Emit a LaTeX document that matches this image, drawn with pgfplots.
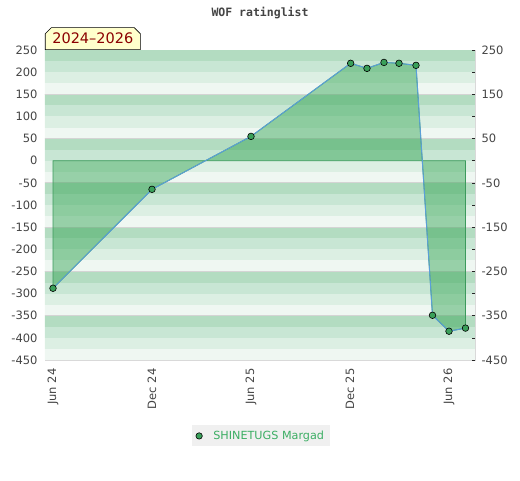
\documentclass[border=0pt]{standalone}
\usepackage{fontspec}
\setmainfont{DejaVu Sans}
\newfontfamily\monofont{DejaVu Sans Mono}
\usepackage{pgfplots}
\pgfplotsset{compat=1.18}
\usetikzlibrary{shapes.misc}
\definecolor{sA}{HTML}{B3DCC1}
\definecolor{sB}{HTML}{C8E6D4}
\definecolor{sC}{HTML}{DCEFE3}
\definecolor{sD}{HTML}{EFF7F2}
\definecolor{gridgray}{HTML}{D4D4D4}
\definecolor{framegray}{HTML}{D9D9D9}
\definecolor{areafill}{HTML}{2EA24E}
\definecolor{areaedge}{HTML}{3C9A5C}
\definecolor{lineblue}{HTML}{5A9FD8}
\definecolor{markgreen}{HTML}{3AA05A}
\definecolor{tickgray}{HTML}{444444}
\definecolor{legendgreen}{HTML}{3CAE64}
\definecolor{legendbg}{HTML}{F0F0F0}
\definecolor{yearred}{HTML}{8B0000}
\definecolor{yearbg}{HTML}{FFFFCC}
\begin{document}
\begin{tikzpicture}
\useasboundingbox (-45pt,-120pt) rectangle (475pt,360pt);
\begin{axis}[
  at={(0pt,0pt)}, anchor=south west,
  scale only axis, width=430pt, height=310pt,
  xmin=-0.485, xmax=25.576, ymin=-450, ymax=250,
  xtick={0,6,12,18,24},
  xticklabels={Jun 24,Dec 24,Jun 25,Dec 25,Jun 26},
  ytick={-450,-400,...,250},
  major tick length=0pt,
  axis line style={framegray},
  /pgf/number format/assume math mode=true,
  ticklabel style={font=\fontsize{11.5}{13}\selectfont, text=tickgray},
  x tick label style={rotate=90, anchor=east, xshift=-5pt},
  y tick label style={xshift=-4pt},
  legend style={at={(0.5023,-0.245)}, anchor=center, draw=none, fill=legendbg,
    font=\fontsize{11.2}{13}\selectfont, text=legendgreen, inner xsep=4pt, inner ysep=3.5pt,
    column sep=9pt},
  legend image code/.code={\draw[mark=*, mark size=3.2pt, mark options={fill=markgreen, draw=black, line width=0.6pt}] plot coordinates {(0.15cm,0cm)};},
]
\pgfplotsinvokeforeach{0,...,6}{
  \fill[sA] (axis cs:-2,{250-100*#1}) rectangle (axis cs:27,{225-100*#1});
  \fill[sB] (axis cs:-2,{225-100*#1}) rectangle (axis cs:27,{200-100*#1});
  \fill[sC] (axis cs:-2,{200-100*#1}) rectangle (axis cs:27,{175-100*#1});
  \fill[sD] (axis cs:-2,{175-100*#1}) rectangle (axis cs:27,{150-100*#1});
}
\pgfplotsinvokeforeach{0,...,5}{
  \draw[gridgray, line width=0.9pt] (axis cs:-2,{150-100*#1}) -- (axis cs:27,{150-100*#1});
}
\addplot[draw=areaedge, line width=0.8pt, fill=areafill, fill opacity=0.45, forget plot] coordinates {
(0,-288) (6,-64.6) (12,55) (18.04,220) (19.03,208.6) (20.06,222) (20.97,220) (22.0,215.4) (23.0,-349) (24.0,-385) (25.0,-378)
} \closedcycle;
\addplot[color=lineblue, line width=1pt, mark=*, mark size=3.3pt, mark options={fill=markgreen, draw=black, line width=0.6pt}] coordinates {
(0,-288) (6,-64.6) (12,55) (18.04,220) (19.03,208.6) (20.06,222) (20.97,220) (22.0,215.4) (23.0,-349) (24.0,-385) (25.0,-378)
};
\addlegendentry{SHINETUGS Margad}
\end{axis}
\begin{axis}[
  at={(0pt,0pt)}, anchor=south west,
  scale only axis, width=430pt, height=310pt,
  xmin=-0.485, xmax=25.576, ymin=-450, ymax=250,
  hide x axis,
  axis y line*=right,
  axis line style={framegray},
  ytick={-450,-350,...,250},
  minor ytick={-400,-300,...,200},
  tick align=inside,
  major tick length=3.5pt, minor tick length=3.5pt,
  every tick/.style={black!85, line width=0.7pt},
  /pgf/number format/assume math mode=true,
  ticklabel style={font=\fontsize{11.5}{13}\selectfont, text=tickgray},
  y tick label style={xshift=3pt},
]
\addplot[draw=none] coordinates {(0,0)};
\end{axis}
\node[chamfered rectangle, chamfered rectangle corners={north west,north east}, chamfered rectangle xsep=3pt, chamfered rectangle ysep=3pt,
  draw=black, line width=0.7pt, fill=yearbg, text=yearred, font=\fontsize{14.5}{16}\selectfont,
  minimum width=95pt, minimum height=22pt, inner sep=0pt, anchor=south west] at (0pt,310pt) {2024–2026};
\node[font=\monofont\bfseries\fontsize{11.5}{13}\selectfont, text=tickgray] at (215pt,347pt) {WOF ratinglist};
\end{tikzpicture}
\end{document}
